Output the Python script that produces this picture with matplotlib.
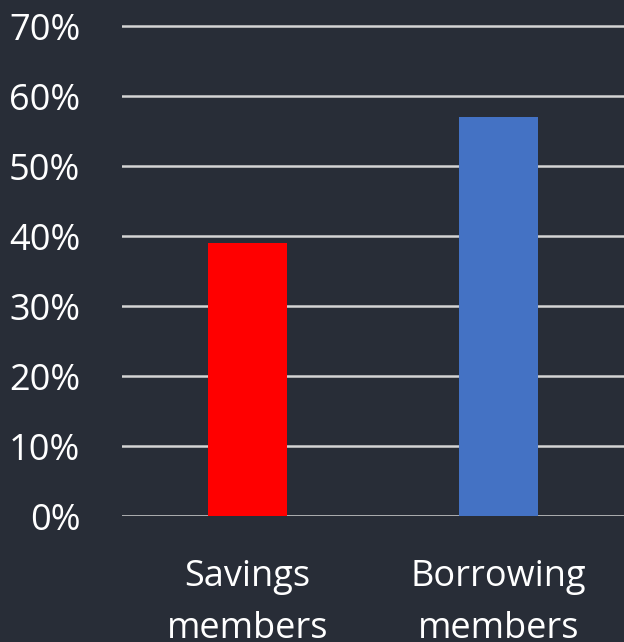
import matplotlib
matplotlib.use('Agg')
import matplotlib.pyplot as plt
from matplotlib.ticker import PercentFormatter

categories = ['Savings\nmembers', 'Borrowing\nmembers']
shares = [0.39, 0.57]
bar_colors = ['#ff0000', '#4472c4']
y_ticks = [0.0, 0.1, 0.2, 0.3, 0.4, 0.5, 0.6, 0.7]

BG = '#282d37'
GRID = '#d4d4d4'

plt.rcParams['font.family'] = ['Open Sans', 'DejaVu Sans']

fig = plt.figure(figsize=(6.24, 6.42), dpi=100, facecolor=BG)
ax = fig.add_axes([122 / 624, 126 / 642, 1 - 122 / 624, (642 - 126 - 22.5) / 642])
ax.set_facecolor(BG)

x = range(len(categories))
ax.bar(x, shares, width=0.317, color=bar_colors, zorder=2)

ax.set_xlim(-0.5, 1.5)
ax.set_ylim(0, 0.705)
ax.set_yticks(y_ticks)
ax.yaxis.set_major_formatter(PercentFormatter(1.0, decimals=0))
ax.set_xticks(list(x))
ax.set_xticklabels(categories, linespacing=1.6)

ax.grid(axis='y', color=GRID, linewidth=1.8, zorder=1)
ax.set_axisbelow(True)
for s in ax.spines.values():
    s.set_visible(False)

ax.tick_params(axis='y', length=0, pad=30, labelsize=26, labelcolor='white')
ax.tick_params(axis='x', length=0, pad=31, labelsize=26, labelcolor='white')

fig.savefig('out.png', dpi=100, facecolor=BG)
